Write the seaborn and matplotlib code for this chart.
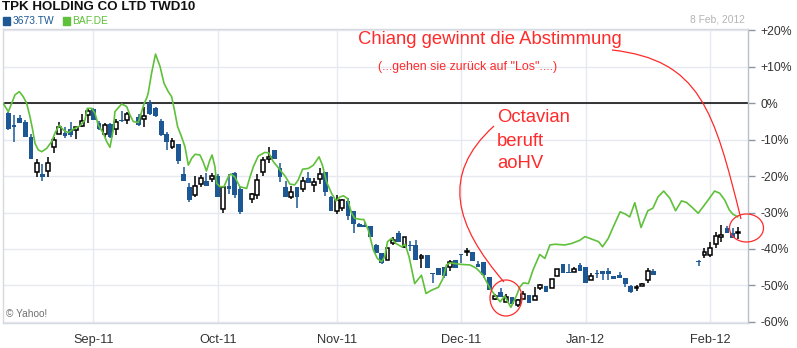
import numpy as np
import pandas as pd
import matplotlib
matplotlib.use("Agg")
import matplotlib.pyplot as plt
import seaborn as sns
from matplotlib.patches import Ellipse, PathPatch, Rectangle
from matplotlib.path import Path
from matplotlib.transforms import Affine2D

# ---------------- data ----------------
title = "TPK HOLDING CO LTD TWD10"
series_names = ["3673.TW", "BAF.DE"]
date_label = "8 Feb, 2012"

month_pos = [15, 37, 58, 80, 102, 124]
month_labels = ["Sep-11", "Oct-11", "Nov-11", "Dec-11", "Jan-12", "Feb-12"]
y_ticks = [20, 10, 0, -10, -20, -30, -40, -50, -60]

# TPK candles (percent change), index = trading day
cdl_idx = [0, 1, 2, 3, 4, 5, 6, 7, 8, 9, 10, 11, 12, 13, 14, 15, 16, 17, 18, 19, 20, 21,
           23, 24, 25, 26, 27, 28, 29, 30, 31, 32, 33, 34, 35, 36, 37, 38, 39, 40, 41,
           43, 44, 45, 46, 47, 48, 49, 50, 51, 52, 53, 54, 55, 56, 57, 58, 59, 60, 61, 62,
           63, 64, 65, 66, 67, 68, 69, 70, 71, 72, 73, 74, 75, 76, 77, 78, 79, 80, 81, 82,
           83, 84, 85, 86, 87, 88, 89, 90, 91, 92, 93, 94, 95, 96, 97, 98, 99, 100, 101,
           102, 103, 104, 105, 106, 107, 108, 109, 110, 111, 112, 113, 114,
           122, 123, 124, 125, 126, 127, 128, 129]
cdl_open = [-2.6, -6.0, -4.1, -5.1, -9.2, -18.9, -19.5, -18.6, -12.1, -8.4, -8.1, -7.1, -7.3, -6.2, -3.2, -1.6, -5.3, -8.4, -5.7, -7.1, -4.6, -4.6,
            -3.8, -4.2, 0.0, -1.4, -4.9, -8.5, -12.1, -11.2, -19.4, -22.9, -25.1, -22.2, -21.4, -20.9, -20.0, -29.1, -22.7, -19.2, -23.6,
            -26.4, -25.3, -18.8, -15.4, -12.8, -17.7, -22.9, -25.8, -22.9, -23.4, -20.4, -22.5, -20.9, -19.0, -25.8, -29.5, -28.8, -26.8, -29.6, -33.2,
            -33.4, -33.7, -38.9, -41.2, -42.9, -38.3, -35.7, -39.4, -38.9, -38.9, -42.6, -41.7, -46.8, -45.3, -44.9, -44.9, -42.9, -41.5, -40.8, -40.9,
            -44.0, -43.5, -47.8, -53.8, -51.8, -54.6, -53.3, -55.4, -53.6, -52.7, -54.0, -50.7, -50.2, -50.7, -47.4, -44.0, -46.3, -46.3, -44.4,
            -44.9, -48.4, -46.9, -46.1, -46.1, -47.5, -47.2, -48.1, -50.2, -50.8, -50.2, -48.4, -46.1,
            -43.6, -41.7, -41.7, -38.5, -36.8, -34.2, -35.7, -35.6]
cdl_high = [-2.4, -3.2, -3.2, -4.6, -8.4, -15.4, -16.7, -14.8, -9.2, -5.1, -6.6, -5.1, -6.5, -3.0, -1.4, -1.4, -4.9, -5.3, -5.3, -4.4, -2.0, -2.3,
            -3.0, -0.9, 0.8, -1.0, -4.4, -7.8, -9.6, -11.2, -17.4, -21.9, -19.9, -19.7, -19.2, -19.1, -19.5, -22.7, -19.3, -18.9, -23.1,
            -24.7, -19.4, -14.7, -12.1, -12.8, -16.5, -21.4, -22.7, -22.9, -20.2, -18.8, -20.6, -17.9, -19.0, -25.5, -25.2, -26.3, -26.0, -29.6, -32.8,
            -32.5, -33.7, -38.5, -41.2, -39.8, -36.8, -35.1, -36.6, -37.8, -37.6, -41.5, -41.7, -46.6, -45.3, -44.9, -43.0, -42.9, -41.5, -39.8, -40.9,
            -43.2, -43.5, -47.8, -52.4, -50.8, -52.4, -53.3, -53.6, -51.5, -52.7, -50.3, -49.5, -50.2, -48.2, -45.4, -44.0, -44.0, -45.0, -43.8,
            -44.9, -46.7, -45.8, -46.1, -45.3, -47.5, -46.3, -48.1, -49.9, -49.8, -49.4, -45.3, -45.6,
            -43.0, -39.6, -38.0, -35.3, -33.4, -33.6, -34.3, -33.9]
cdl_low = [-7.3, -10.5, -5.4, -9.3, -15.4, -20.2, -21.3, -20.2, -13.6, -8.4, -9.6, -9.3, -9.9, -6.4, -5.5, -4.6, -7.3, -9.2, -9.5, -8.7, -5.1, -5.7,
           -6.2, -6.4, -3.3, -3.8, -9.0, -12.8, -12.6, -16.7, -21.3, -27.1, -25.8, -22.9, -22.6, -21.6, -25.8, -30.0, -24.9, -26.1, -30.5,
           -27.3, -26.4, -20.0, -16.3, -15.4, -21.5, -25.7, -26.4, -28.8, -24.3, -21.8, -24.3, -22.2, -25.4, -29.5, -30.3, -29.5, -32.1, -35.5, -33.9,
           -34.1, -36.8, -41.2, -44.0, -42.9, -38.9, -38.0, -39.8, -40.6, -42.9, -45.1, -45.3, -49.3, -47.2, -48.0, -46.0, -45.3, -43.9, -42.0, -43.2,
           -44.9, -48.0, -51.3, -54.0, -53.3, -54.6, -55.1, -55.8, -53.6, -54.8, -54.0, -51.3, -51.9, -50.7, -47.4, -46.7, -46.7, -46.3, -46.0,
           -49.3, -48.4, -48.1, -48.6, -48.6, -48.3, -48.1, -50.4, -52.0, -51.5, -50.2, -49.3, -47.2,
           -44.7, -42.6, -42.3, -39.8, -38.0, -35.7, -37.1, -37.3]
cdl_close = [-7.1, -6.6, -5.3, -9.2, -15.4, -16.3, -20.3, -16.3, -10.1, -6.6, -9.0, -8.7, -6.6, -4.8, -2.0, -4.6, -7.1, -6.0, -9.2, -5.1, -4.9, -2.9,
             -6.0, -3.5, -3.0, -3.5, -8.7, -10.5, -10.4, -15.8, -21.3, -26.6, -22.7, -20.6, -22.6, -20.0, -25.8, -23.1, -23.5, -25.2, -29.8,
             -24.9, -21.1, -15.6, -14.8, -15.4, -20.2, -25.7, -24.4, -25.7, -21.3, -21.8, -21.5, -19.4, -24.3, -29.5, -26.6, -26.6, -30.9, -33.2, -33.9,
             -34.1, -36.8, -41.2, -43.8, -39.8, -37.6, -38.0, -36.6, -39.2, -42.9, -42.0, -45.3, -47.0, -47.2, -47.4, -43.5, -45.3, -41.7, -40.6, -43.2,
             -44.9, -47.2, -51.3, -52.9, -53.3, -53.3, -55.1, -54.0, -52.4, -54.8, -52.9, -50.0, -51.9, -48.2, -45.4, -46.7, -46.7, -45.5, -46.0,
             -49.3, -47.3, -47.0, -46.9, -46.9, -48.3, -48.1, -49.6, -51.8, -50.3, -49.5, -46.1, -47.2,
             -43.7, -40.8, -39.6, -36.5, -36.2, -35.7, -37.1, -35.5]

# BAF.DE line (percent change) read at its vertices
baf_x = [-0.95, 0.0, 1.17, 1.93, 2.63, 3.23, 3.82, 4.29, 4.70, 5.28, 5.88, 6.77, 7.65, 8.23, 8.99, 9.70, 10.58, 11.47,
         12.65, 13.53, 13.94, 14.72, 15.3, 15.88, 16.77, 17.37, 17.95, 18.53, 18.83, 20.02, 20.9, 21.48, 22.07, 22.95,
         23.55, 23.96, 24.43, 24.7, 25.3, 26.0, 26.8, 27.5, 28.25, 28.85, 29.4, 29.9, 30.6, 31.2, 31.8, 32.4, 33.0, 33.85,
         34.4, 35.0, 35.6, 36.0, 36.5, 36.8, 37.4, 38.1, 38.85, 39.3, 40.0, 40.9, 42.1, 42.7, 43.3, 44.15, 45.3, 46.0,
         46.8, 47.7, 48.9, 49.75, 50.6, 51.2, 52.0, 53.0, 53.9, 54.9, 55.5, 56.2, 57.1, 57.9, 58.6, 59.2, 59.9, 60.65,
         61.2, 62.4, 62.8, 63.6, 64.5, 65.2, 65.95, 66.5, 67.0, 67.7, 68.5, 69.5, 70.1, 70.8, 71.8, 73.0, 73.8, 74.8,
         76.0, 76.8, 77.4, 78.0, 79.8, 81.6, 82.7, 83.9, 85.1, 86.0, 86.9, 87.7, 88.8, 89.7, 90.4, 91.0, 91.9, 92.7,
         93.9, 94.8, 95.7, 96.6, 98.3, 99.5, 101.0, 101.9, 103.3, 104.3, 105.0, 106.0, 106.9, 108.1, 109.0, 109.8,
         110.7, 111.8, 113.0, 113.9, 114.8, 115.8, 116.9, 117.9, 118.95, 119.8, 120.7, 121.9, 123.4, 124.8, 125.7,
         126.6, 127.4, 128.0, 128.9]
baf_y = [0.0, -2.3, 2.3, 3.2, 1.8, 0.0, -3.7, -7.3, -11.0, -12.8, -13.3, -12.4, -10.5, -8.2, -6.0, -7.3, -8.1, -7.1,
         -6.2, -4.6, -1.4, -1.4, -2.7, -6.0, -8.2, -10.5, -12.1, -7.3, -2.3, -0.2, -0.9, -3.2, -5.0, -5.3,
         -2.3, -0.2, 1.4, 2.7, 8.2, 13.5, 10.1, 5.5, 3.2, 1.8, -2.3, -6.4, -9.2, -11.9, -17.0, -15.1, -14.0, -14.2,
         -16.0, -18.6, -15.6, -14.2, -17.4, -22.0, -22.9, -22.9, -20.2, -19.4, -20.2, -22.9, -23.4, -20.2, -17.4, -14.5, -13.5, -13.6,
         -16.0, -17.7, -20.0, -22.2, -22.4, -21.1, -18.1, -17.9, -17.0, -14.7, -17.0, -21.5, -24.7, -26.8, -25.7, -25.4, -26.1, -30.2,
         -31.6, -31.9, -31.9, -34.8, -40.3, -42.6, -43.5, -42.1, -38.0, -37.1, -38.5, -39.4, -38.7, -42.1, -49.5, -47.2, -52.2, -51.3,
         -50.5, -48.1, -44.4, -43.8, -44.2, -44.4, -45.3, -47.2, -50.8, -52.7, -54.5, -52.9, -56.0, -53.1, -50.4, -49.3, -49.5, -45.8,
         -41.5, -42.6, -38.9, -38.7, -38.9, -38.5, -37.6, -36.6, -37.4, -38.0, -39.4, -37.1, -33.9, -29.8, -30.4, -31.2,
         -27.3, -34.1, -29.5, -28.8, -25.7, -24.1, -26.1, -29.5, -26.8, -27.2, -28.4, -30.2, -27.1, -24.1, -24.7,
         -26.6, -29.3, -30.4, -31.2]

# ---------------- style ----------------
BLUE = "#1d5895"
GREEN = "#5fc03a"
RED = "#ff2a2a"
GRID = "#e6eaf0"

sns.set_style("white")
plt.rcParams['font.family'] = ['Liberation Sans', 'DejaVu Sans']

W, H = 797, 348
fig = plt.figure(figsize=(W / 100, H / 100), dpi=100)
ax = fig.add_axes([3 / W, 1 - 323.3 / H, 745 / W, (323.3 - 29.3) / H])
px = Affine2D().scale(1, -1).translate(0, H)  # figure pixel coords, origin top-left

ax.set_xlim(-0.95, 130.7)
ax.set_ylim(-60.4, 20.3)

# grid
for y in y_ticks:
    ax.axhline(y, color=GRID, lw=1, zorder=0)
for x in month_pos:
    ax.axvline(x, color=GRID, lw=1, zorder=0)
ax.axhline(0, color="black", lw=1.1, zorder=1)

# candles
df = pd.DataFrame(dict(i=cdl_idx, o=cdl_open, h=cdl_high, l=cdl_low, c=cdl_close))
up = df.c >= df.o
dn = ~up
ax.vlines(df.i[dn], df.l[dn], df.h[dn], color=BLUE, lw=1.1, zorder=2)
ax.vlines(df.i[up], df.l[up], df.h[up], color="black", lw=1.1, zorder=2)
bh = np.maximum((df.c - df.o).abs(), 0.3)
bb = np.minimum(df.c, df.o)
ax.bar(df.i[dn], bh[dn], bottom=bb[dn], width=0.85, color=BLUE, lw=0, zorder=3)
ax.bar(df.i[up], bh[up], bottom=bb[up], width=0.68, facecolor="white",
       edgecolor="black", lw=1.1, zorder=3)

# BAF line
sns.lineplot(x=baf_x, y=baf_y, color=GREEN, lw=1.2, ax=ax, zorder=4, sort=False)

# axes
for s in ["left", "top", "bottom"]:
    ax.spines[s].set_color("#d6d9de")
    ax.spines[s].set_linewidth(1)
ax.spines["right"].set_color("#b8c0c8")
ax.spines["right"].set_linewidth(1)
ax.yaxis.tick_right()
ax.set_yticks(y_ticks)
ax.set_yticklabels([("%+d%%" % v) if v != 0 else "0%" for v in y_ticks])
ax.set_xticks(month_pos)
ax.set_xticklabels(month_labels)
ax.tick_params(axis="y", direction="out", length=5, width=1, color="#8a96a3",
               labelsize=8.8, labelcolor="#333333", pad=4)
ax.tick_params(axis="x", direction="out", length=5, width=1, color="#b8c0c8",
               labelsize=9.2, labelcolor="#333333", pad=3)
ax.set_xlabel("")
ax.set_ylabel("")
if ax.get_legend():
    ax.get_legend().remove()

# header texts
fig.text(2.5, 7.5, title, transform=px, fontsize=9.6, fontweight="bold",
         color="#111111", va="center", ha="left")
fig.patches.append(Rectangle((2.7, 24.5), 7.3, -7.3, transform=px, color=BLUE))
fig.text(12.5, 20.5, series_names[0], transform=px, fontsize=7.4, color=BLUE,
         va="center", ha="left")
fig.patches.append(Rectangle((62.7, 24.5), 7.3, -7.3, transform=px, color=GREEN))
fig.text(72.3, 20.5, series_names[1], transform=px, fontsize=7.4, color=GREEN,
         va="center", ha="left")
fig.text(745, 19.5, date_label, transform=px, fontsize=7.4, color="#b4b4b4",
         va="center", ha="right")
fig.text(6, 314, "\u00a9 Yahoo!", transform=px, fontsize=7.3, color="#707070",
         va="center", ha="left")

# annotations
fig.text(358, 40, "Chiang gewinnt die Abstimmung", transform=px, fontsize=13.3,
         color=RED, va="center", ha="left")
fig.text(378, 67, "(...gehen sie zur\u00fcck auf \"Los\"....)", transform=px,
         fontsize=8.9, color=RED, va="center", ha="left")
for k, line in enumerate(["Octavian", "beruft", "aoHV"]):
    fig.text(497, 118 + 23 * k, line, transform=px, fontsize=13.3, color=RED,
             va="center", ha="left")

curves = [
    [(612, 50), (700, 60), (714, 110), (741, 219)],
    [(494, 126), (440, 175), (455, 225), (504, 282)],
]
for pts in curves:
    path = Path(pts, [Path.MOVETO, Path.CURVE4, Path.CURVE4, Path.CURVE4])
    fig.patches.append(PathPatch(path, transform=px, fill=False, color=RED, lw=0.9))
fig.patches.append(Ellipse((746.5, 228), 34, 28, transform=px, fill=False, color=RED, lw=0.9))
fig.patches.append(Ellipse((506, 298), 32, 36, transform=px, fill=False, color=RED, lw=0.9))

fig.savefig("out.png", dpi=100)
